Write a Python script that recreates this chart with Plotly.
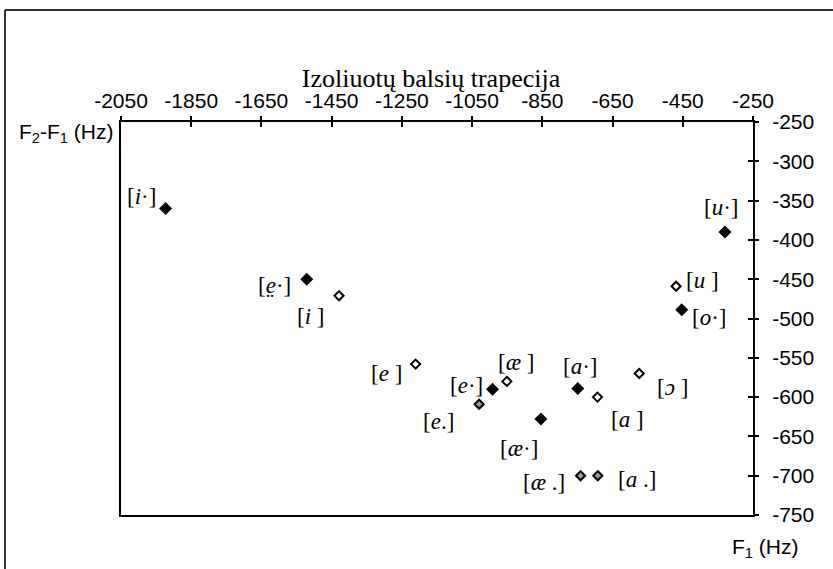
import plotly.graph_objects as go

# ---- data (F1, F2-F1 in Hz) ----
long_labels = ["i·", "e̤·", "e·", "æ·", "a·", "u·", "o·"]
long_f1 = [-1923, -1521, -992, -854, -749, -330, -453]
long_f2f1 = [-360, -450, -590, -628, -589, -390, -489]

short_labels = ["i", "e", "æ", "a", "ɔ", "u"]
short_f1 = [-1429, -1211, -951, -693, -574, -469]
short_f2f1 = [-471, -558, -580, -600, -570, -459]

reduced_labels = ["e.", "æ .", "a ."]
reduced_f1 = [-1030, -741, -692]
reduced_f2f1 = [-609, -700, -700]

x_ticks = [-2050, -1850, -1650, -1450, -1250, -1050, -850, -650, -450, -250]
x_ticktext = ["-2050", "-1850", "-1650", "-1450", "-1250", "-1050", "-850", "-650", "-450", "-250"]
y_ticks = [-250, -300, -350, -400, -450, -500, -550, -600, -650, -700, -750]
y_ticktext = ["-250", "-300", "-350", "-400", "-450", "-500", "-550", "-600", "-650", "-700", "-750"]

# label offsets in pixels (dx right, dy down)
long_off = [(-24, -12), (-32, 6), (-26, -4), (-22, 29), (3, -22), (-3, -25), (28, 8)]
short_off = [(-29, 21), (-29, 9), (9, -19), (30, 22), (33, 14), (26, -6)]
reduced_off = [(-41, 17), (-37, 7), (39, 4)]

fig = go.Figure()
fig.add_trace(go.Scatter(x=long_f1, y=long_f2f1, mode="markers",
                         marker=dict(symbol="diamond", size=10, color="black"),
                         showlegend=False, hoverinfo="skip"))
fig.add_trace(go.Scatter(x=short_f1, y=short_f2f1, mode="markers",
                         marker=dict(symbol="diamond", size=7, color="white",
                                     line=dict(color="black", width=2)),
                         showlegend=False, hoverinfo="skip"))
fig.add_trace(go.Scatter(x=reduced_f1, y=reduced_f2f1, mode="markers",
                         marker=dict(symbol="diamond", size=7, color="#999999",
                                     line=dict(color="black", width=2)),
                         showlegend=False, hoverinfo="skip"))
# invisible trace for the outer half of cross ticks
fig.add_trace(go.Scatter(x=[x_ticks[0]], y=[y_ticks[0]], xaxis="x2", yaxis="y2",
                         mode="markers", marker=dict(opacity=0),
                         showlegend=False, hoverinfo="skip"))

def fmt(lbl):
    base = lbl.rstrip("·. ")
    tail = lbl[len(base):]
    if tail == "":
        tail = " "
    return "[<i>" + base + "</i>" + tail + "]"

annots = []
for labels, xs, ys, offs in [(long_labels, long_f1, long_f2f1, long_off),
                              (short_labels, short_f1, short_f2f1, short_off),
                              (reduced_labels, reduced_f1, reduced_f2f1, reduced_off)]:
    for l, x, y, (dx, dy) in zip(labels, xs, ys, offs):
        annots.append(dict(x=x, y=y, text=fmt(l), showarrow=False,
                           xshift=dx, yshift=-dy,
                           font=dict(family="Liberation Serif", size=23, color="black")))

annots.append(dict(text="F<sub>2</sub>-F<sub>1</sub> (Hz)", xref="paper", yref="paper",
                   x=0, y=(515 - 133) / 393, xanchor="right", yanchor="middle", showarrow=False,
                   xshift=-5,
                   font=dict(family="Liberation Sans", size=21, color="black")))
annots.append(dict(text="F<sub>1</sub> (Hz)", xref="paper", yref="paper",
                   x=(765 - 121) / 632, y=(515 - 548) / 393, xanchor="center", yanchor="middle",
                   showarrow=False,
                   font=dict(family="Liberation Sans", size=21, color="black")))

axis_font = dict(family="Liberation Sans", size=21, color="black")

fig.update_layout(
    width=833, height=569,
    margin=dict(l=121, r=80, t=122, b=54, autoexpand=False),
    paper_bgcolor="white", plot_bgcolor="white",
    title=dict(text="Izoliuotų balsių trapecija", x=(431 / 833), xanchor="center",
               yref="container", y=1 - 78 / 569, yanchor="middle",
               font=dict(family="Liberation Serif", size=26, color="black")),
    xaxis=dict(range=[-2050, -250], side="top", tickvals=x_ticks, ticktext=x_ticktext,
               ticks="inside", ticklen=5, tickwidth=1.5, tickcolor="black",
               showline=True, linecolor="black", linewidth=2, mirror=True,
               showgrid=False, zeroline=False, tickfont=axis_font,
               ticklabelstandoff=4, automargin=False),
    yaxis=dict(range=[-750, -250], side="right", tickvals=y_ticks, ticktext=y_ticktext,
               ticks="inside", ticklen=5, tickwidth=1.5, tickcolor="black",
               showline=True, linecolor="black", linewidth=2, mirror=True,
               showgrid=False, zeroline=False, tickfont=axis_font,
               ticklabelstandoff=13, automargin=False),
    xaxis2=dict(range=[-2050, -250], overlaying="x", side="top", anchor="y2",
                tickvals=x_ticks, ticks="outside", ticklen=5, tickwidth=1.5,
                tickcolor="black", showticklabels=False, showline=False,
                showgrid=False, zeroline=False, automargin=False),
    yaxis2=dict(range=[-750, -250], overlaying="y", side="right", anchor="x2",
                tickvals=y_ticks, ticks="outside", ticklen=5, tickwidth=1.5,
                tickcolor="black", showticklabels=False, showline=False,
                showgrid=False, zeroline=False, automargin=False),
    annotations=annots,
    shapes=[
        dict(type="line", xref="paper", yref="paper",
             x0=(5 - 121) / 632, x1=(840 - 121) / 632,
             y0=(515 - 10) / 393, y1=(515 - 10) / 393,
             line=dict(color="#333333", width=2), layer="below"),
        dict(type="line", xref="paper", yref="paper",
             x0=(5 - 121) / 632, x1=(5 - 121) / 632,
             y0=(515 - 10) / 393, y1=(515 - 600) / 393,
             line=dict(color="#333333", width=2), layer="below"),
    ],
)

fig.write_html("out.html", config={"displayModeBar": False},
               post_script="document.body.style.margin='0';document.body.style.overflow='hidden';")
